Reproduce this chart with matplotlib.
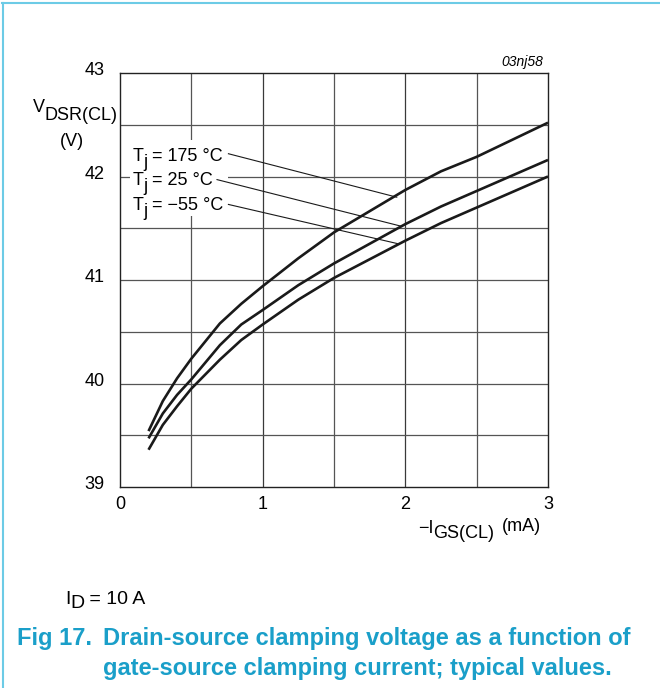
import numpy as np
import matplotlib
matplotlib.use("Agg")
import matplotlib.pyplot as plt
import matplotlib.transforms as mtransforms
from matplotlib.lines import Line2D
from matplotlib.patches import Rectangle

# ------------------------- data -------------------------

# -IGS(CL) in mA
i_gs = [0.2, 0.3, 0.4, 0.5, 0.7, 0.85, 1.0, 1.25, 1.5, 2.0, 2.25, 2.5, 3.0]

# VDSR(CL) in V, one list per junction temperature
v_175 = [39.54, 39.83, 40.05, 40.24, 40.58, 40.77, 40.94, 41.21, 41.46, 41.87, 42.05, 42.19, 42.52]
v_25 = [39.47, 39.71, 39.89, 40.04, 40.37, 40.57, 40.71, 40.95, 41.16, 41.54, 41.71, 41.86, 42.16]
v_m55 = [39.36, 39.60, 39.78, 39.95, 40.23, 40.42, 40.57, 40.81, 41.02, 41.38, 41.55, 41.70, 42.00]

temps = ["175", "25", "\u221255"]
# leader start and end (data units)
leader_start = [(0.76, 42.22), (0.68, 41.97), (0.76, 41.73)]
leader_end = [(1.94, 41.80), (1.97, 41.52), (1.95, 41.35)]

x_ticks = [0, 1, 2, 3]
y_ticks = [39, 40, 41, 42, 43]

cyan = "#1a9fc9"
W, H = 660, 688

# ------------------------- figure -------------------------

plt.rcParams['font.family'] = ['Liberation Sans', 'DejaVu Sans']

fig = plt.figure(figsize=(W / 100, H / 100), dpi=100)
ax = fig.add_axes([120 / W, 1 - 487 / H, 428 / W, 414 / H])
renderer = fig.canvas.get_renderer()


def px(x, y):
	# pixel position measured from the top left -> figure fraction
	return x / W, 1 - y / H


def rich_text(x, y, parts, size, transform=None, **kw):
	# parts: (string, shift down in px, extra gap before in px)
	if transform is None:
		transform = fig.transFigure
	dx = 0
	for s, dy, gap in parts:
		dx += gap
		tr = mtransforms.offset_copy(transform, fig=fig, x=dx, y=-dy, units="dots")
		t = fig.text(x, y, s, transform=tr, fontsize=size, ha="left", va="baseline", **kw)
		dx += t.get_window_extent(renderer).width


ax.set_xlim(0, 3)
ax.set_ylim(39, 43)

# grid every 0.5 in both directions
for gx in np.arange(0.5, 3.0, 0.5):
	ax.axvline(gx, color="#3a3a3a" if gx % 1 == 0 else "#555555", lw=0.9, zorder=1)
for gy in np.arange(39.5, 43.0, 0.5):
	ax.axhline(gy, color="#555555", lw=0.9, zorder=1)

for v in [v_175, v_25, v_m55]:
	ax.plot(i_gs, v, color="#1a1a1a", lw=1.9, solid_capstyle="butt", zorder=4)

# white block behind the labels hides the grid there
ax.add_patch(Rectangle((0.07, 41.62), 0.687, 0.73, facecolor="white", edgecolor="none", zorder=2))
for s, e in zip(leader_start, leader_end):
	ax.plot([s[0], e[0]], [s[1], e[1]], color="#1a1a1a", lw=0.8, zorder=3)

for temp, base in zip(temps, [160.7, 185.0, 210.0]):
	rich_text(*px(133, base), [("T", 0, 0), ("j", 6, 0), ("= " + temp + " \u00b0C", 0, 3.5)], 13)

for sp in ax.spines.values():
	sp.set_linewidth(1.0)
	sp.set_color("#222222")
	sp.set_zorder(5)

ax.set_xticks(x_ticks)
ax.set_yticks(y_ticks)
ax.set_xticklabels([])
ax.set_yticklabels([])
ax.tick_params(length=0)

for t in x_ticks:
	ax.text(t, 38.83, str(t), ha="center", va="center", fontsize=13)
for t in y_ticks:
	ax.text(-0.11, t + 0.02, str(t), ha="right", va="center", fontsize=13)

# axis titles
rich_text(*px(33, 112.5), [("V", 0, 0), ("DSR(CL)", 7.5, 0)], 13)
fig.text(*px(71.5, 145.5), "(V)", fontsize=13, ha="center", va="baseline")
rich_text(*px(418, 533), [("\u2212I", 0, 0), ("GS(CL)", 5.5, 0)], 13)
fig.text(*px(502, 531), "(mA)", fontsize=13, ha="left", va="baseline")

fig.text(*px(543, 62), "03nj58", fontsize=10, style="italic", ha="right", va="center")

rich_text(*px(65, 603.5), [("I", 0, 0), ("D", 5, 0), (" = 10 A", 0, 0)], 14)

fig.text(*px(17, 644.5), "Fig 17.", fontsize=17, weight="bold", color=cyan,
	ha="left", va="baseline")
fig.text(*px(103, 644.5), "Drain-source clamping voltage as a function of",
	fontsize=17, weight="bold", color=cyan, ha="left", va="baseline")
fig.text(*px(103, 675), "gate-source clamping current; typical values.",
	fontsize=17, weight="bold", color=cyan, ha="left", va="baseline")

# cyan frame on top and left
fig.add_artist(Line2D([0.003, 1], [1 - 3 / H, 1 - 3 / H], transform=fig.transFigure,
	color="#6ccbe6", lw=1.5))
fig.add_artist(Line2D([2.5 / W, 2.5 / W], [0, 1 - 3 / H], transform=fig.transFigure,
	color="#6ccbe6", lw=1.5))

fig.savefig("out.png", dpi=100)
